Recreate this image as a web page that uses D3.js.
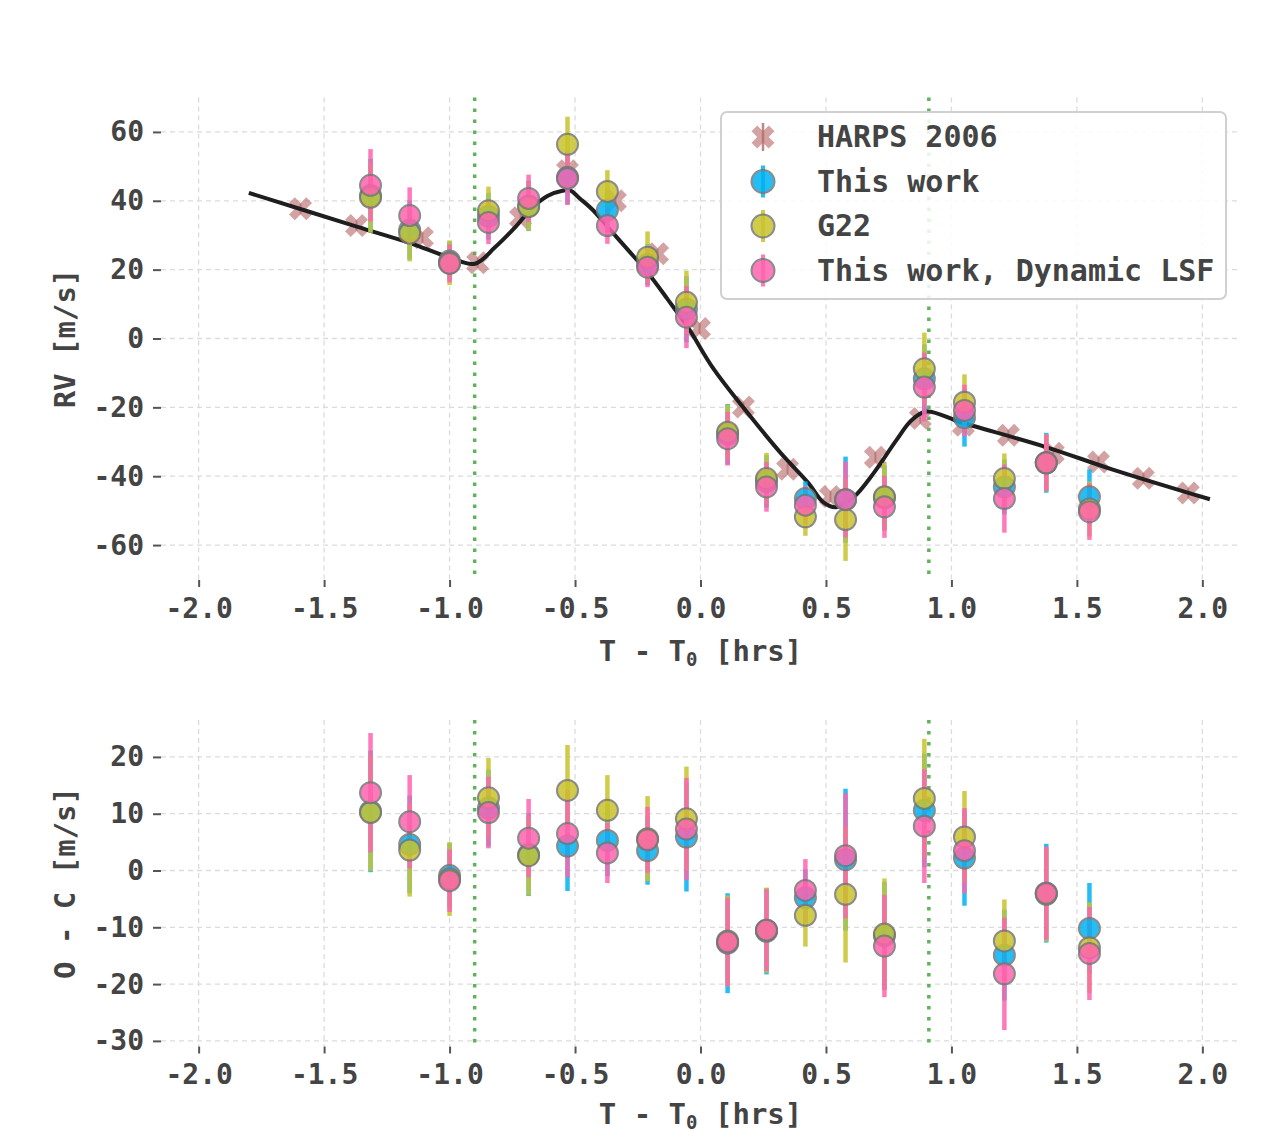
<!DOCTYPE html>
<html>
<head>
<meta charset="utf-8">
<script src="https://cdn.jsdelivr.net/npm/d3@7"></script>
<style>
  body { margin: 0; background: #fff; }
  text { font-family: "DejaVu Sans Mono", monospace; font-weight: bold; fill: #444; }
</style>
</head>
<body>
<div id="chart"></div>
<script>
// ---- data ----
// HARPS 2006
const harpsT = [-1.594, -1.371, -1.108, -0.888, -0.717, -0.530, -0.339, -0.171, -0.004, 0.171,
  0.347, 0.518, 0.697, 0.876, 1.048, 1.227, 1.406, 1.586, 1.765, 1.944]
const harpsRV = [37.7, 32.8, 29.3, 22.0, 35.1, 48.7, 40.0, 24.6, 2.9, -19.9,
  -38.0, -45.9, -34.5, -23.2, -25.2, -28.1, -33.3, -35.9, -40.6, -44.9]
const harpsErr = [1.5, 1.5, 1.5, 1.5, 1.5, 1.5, 1.5, 1.5, 1.5, 1.5,
  1.5, 1.5, 1.5, 1.5, 1.5, 1.5, 1.5, 1.5, 1.5, 1.5]

// model curve
const modelT = [-1.80, -1.37, -1.16, -1.01, -0.90, -0.82, -0.74, -0.67, -0.61, -0.55, -0.52, -0.48,
  -0.43, -0.36, -0.29, -0.21, -0.13, -0.05, 0.05, 0.17, 0.32, 0.43, 0.49, 0.54, 0.61, 0.69,
  0.78, 0.84, 0.90, 1.04, 1.38, 1.64, 2.03]
const modelRV = [42.3, 32.5, 27.8, 23.8, 21.7, 26.4, 32.2, 38.0, 41.4, 42.9, 43.0, 40.6,
  37.4, 31.6, 25.8, 19.1, 11.3, 3.2, -8.6, -20.0, -33.3, -42.0, -47.6, -49.0, -46.1, -39.1,
  -29.6, -23.8, -21.2, -24.4, -31.6, -38.0, -46.7]

// epochs of the new observations
const obsT = [-1.315, -1.159, -1.000, -0.845, -0.685, -0.530, -0.371, -0.211, -0.056, 0.108,
  0.263, 0.418, 0.578, 0.733, 0.892, 1.052, 1.211, 1.378, 1.550]

const rvThis = [41.5, 31.5, 22.5, 35.5, 38.5, 46.8, 37.3, 21.5, 8.5, -27.8,
  -41.5, -46.5, -46.8, -46.3, -11.7, -23.0, -43.1, -36.1, -46.0]
const rvG22 = [41.0, 30.6, 22.0, 37.1, 38.3, 56.4, 42.7, 23.6, 10.5, -27.2,
  -40.7, -51.8, -52.6, -46.0, -8.8, -18.5, -40.7, -36.1, -49.5]
const rvDyn = [44.5, 35.7, 21.8, 33.7, 40.7, 46.5, 32.8, 20.7, 6.2, -29.1,
  -43.1, -48.4, -46.8, -48.9, -14.1, -20.9, -46.5, -36.1, -50.3]

const errThis = [10.7, 8.6, 5.7, 6.8, 7.3, 7.9, 6.3, 6.0, 9.6, 8.8,
  7.6, 5.0, 12.5, 9.5, 10.0, 8.4, 8.0, 8.7, 8.0]
const errG22 = [10.3, 8.2, 6.5, 7.0, 7.0, 8.0, 6.2, 7.5, 9.2, 8.0,
  7.5, 5.5, 12.0, 9.8, 10.5, 8.1, 7.3, 8.3, 8.0]
const errDyn = [10.5, 8.2, 5.5, 6.3, 6.9, 7.7, 5.3, 5.8, 9.0, 7.8,
  7.2, 5.5, 11.0, 9.0, 10.0, 7.5, 9.9, 8.2, 8.2]

const ocThis = [10.4, 4.6, -0.9, 11.0, 2.8, 4.3, 5.3, 3.5, 5.9, -12.8,
  -10.7, -4.8, 1.9, -11.5, 10.6, 2.2, -14.9, -4.0, -10.2]
const ocG22 = [10.2, 3.6, -1.5, 12.8, 2.6, 14.1, 10.6, 5.6, 9.1, -12.4,
  -10.5, -7.9, -4.2, -11.2, 12.7, 5.9, -12.4, -4.2, -13.6]
const ocDyn = [13.7, 8.6, -1.8, 10.2, 5.7, 6.5, 3.1, 5.4, 7.3, -12.6,
  -10.5, -3.5, 2.6, -13.3, 7.8, 3.5, -18.2, -4.0, -14.6]

const transitT = [-0.90, 0.91]

const xTicks = [-2.0, -1.5, -1.0, -0.5, 0.0, 0.5, 1.0, 1.5, 2.0]
const rvTicks = [60, 40, 20, 0, -20, -40, -60]
const ocTicks = [20, 10, 0, -10, -20, -30]

const seriesNames = ["This work", "G22", "This work, Dynamic LSF"]
const seriesColors = ["#00b2f2", "#c9c32c", "#ff63ae"]
const harpsName = "HARPS 2006"

// ---- layout ----
const W = 1277, H = 1136
const LEFT = 161, RIGHT = 1240
const TOP1 = { top: 97.5, bottom: 579.5 }
const BOT1 = { top: 720, bottom: 1046 }

const svg = d3.select("#chart").append("svg")
  .attr("width", W)
  .attr("height", H)

const x = d3.scaleLinear().domain([-2.15, 2.15]).range([LEFT, RIGHT])
const yTop = d3.scaleLinear().domain([-70, 70]).range([TOP1.bottom, TOP1.top])
const yBot = d3.scaleLinear().domain([-30.9, 26.5]).range([BOT1.bottom, BOT1.top])

const crossPath = d3.symbol().type(d3.symbolCross).size(330)()

function panel(y, box, yTicks, yLabel, labelOffset) {
  const g = svg.append("g")

  // grid
  g.selectAll(".hgrid").data(yTicks).join("line")
    .attr("x1", LEFT).attr("x2", RIGHT)
    .attr("y1", d => y(d)).attr("y2", d => y(d))
    .attr("stroke", "#dcdcdc").attr("stroke-width", 1.3)
    .attr("stroke-dasharray", "5,4")
  g.selectAll(".vgrid").data(xTicks).join("line")
    .attr("x1", d => x(d)).attr("x2", d => x(d))
    .attr("y1", box.top).attr("y2", box.bottom)
    .attr("stroke", "#dcdcdc").attr("stroke-width", 1.3)
    .attr("stroke-dasharray", "5,4")

  // transit contacts
  g.selectAll(".transit").data(transitT).join("line")
    .attr("x1", d => x(d)).attr("x2", d => x(d))
    .attr("y1", box.top).attr("y2", box.bottom)
    .attr("stroke", "#5fb35a").attr("stroke-width", 3.5)
    .attr("stroke-dasharray", "3.5,7.5")

  // axes
  const xAxis = g.append("g")
    .attr("transform", `translate(0, ${box.bottom + 0.5})`)
    .call(d3.axisBottom(x).tickValues(xTicks).tickSize(7).tickPadding(11))
  const yAxis = g.append("g")
    .attr("transform", `translate(${LEFT}, 0)`)
    .call(d3.axisLeft(y).tickValues(yTicks).tickSize(8).tickPadding(9))
  ;[xAxis, yAxis].forEach(a => {
    a.select(".domain").remove()
    a.selectAll("line").attr("stroke", "#555").attr("stroke-width", 2)
    a.selectAll("text")
      .attr("font-family", null)
      .style("font-size", "28px")
      .attr("fill", null)
  })
  xAxis.selectAll("text").text(d => d.toFixed(1))
  yAxis.selectAll("text").text(d => String(d))

  // axis labels
  const xl = g.append("text")
    .attr("x", (LEFT + RIGHT) / 2)
    .attr("y", box.bottom + labelOffset)
    .attr("text-anchor", "middle")
    .style("font-size", "29px")
  xl.append("tspan").text("T - T")
  xl.append("tspan").text("0").attr("dy", 5).style("font-size", "19px")
  xl.append("tspan").text(" [hrs]").attr("dy", -5)

  g.append("text")
    .attr("transform", `translate(75, ${(box.top + box.bottom) / 2}) rotate(-90)`)
    .attr("text-anchor", "middle")
    .style("font-size", "29px")
    .text(yLabel)

  return g
}

// ---- top panel ----
const gTop = panel(yTop, TOP1, rvTicks, "RV [m/s]", 81)

// HARPS
const harps = harpsT.map((t, i) => ({ t, v: harpsRV[i], e: harpsErr[i] }))
gTop.selectAll(".harpsbar").data(harps).join("line")
  .attr("x1", d => x(d.t)).attr("x2", d => x(d.t))
  .attr("y1", d => yTop(d.v + d.e)).attr("y2", d => yTop(d.v - d.e))
  .attr("stroke", "#8b2525").attr("stroke-width", 2).attr("opacity", 0.5)
gTop.selectAll(".harps").data(harps).join("path")
  .attr("d", crossPath)
  .attr("transform", d => `translate(${x(d.t)}, ${yTop(d.v)}) rotate(45)`)
  .attr("fill", "#b86b6b").attr("opacity", 0.62)

// model
const model = modelT.map((t, i) => ({ t, v: modelRV[i] }))
gTop.append("path")
  .attr("d", d3.line().x(d => x(d.t)).y(d => yTop(d.v)).curve(d3.curveCatmullRom.alpha(0.5))(model))
  .attr("fill", "none")
  .attr("stroke", "#1e1e1e")
  .attr("stroke-width", 4)
  .attr("stroke-linejoin", "round")

function drawPoints(g, y, vals, errs) {
  const sets = vals.map((arr, s) => obsT.map((t, i) => ({ t, v: arr[i], e: errs[s][i], s })))
  sets.forEach(pts => {
    g.selectAll(null).data(pts).join("line")
      .attr("x1", d => x(d.t)).attr("x2", d => x(d.t))
      .attr("y1", d => y(d.v + d.e)).attr("y2", d => y(d.v - d.e))
      .attr("stroke", d => seriesColors[d.s])
      .attr("stroke-width", 4.5)
      .attr("opacity", 0.85)
  })
  sets.forEach(pts => {
    g.selectAll(null).data(pts).join("circle")
      .attr("cx", d => x(d.t)).attr("cy", d => y(d.v))
      .attr("r", 10.5)
      .attr("fill", d => seriesColors[d.s])
      .attr("stroke", "#777")
      .attr("stroke-width", 2)
      .attr("opacity", 0.85)
  })
}

drawPoints(gTop, yTop, [rvThis, rvG22, rvDyn], [errThis, errG22, errDyn])

// legend
const legend = gTop.append("g").attr("transform", "translate(721, 112)")
legend.append("rect")
  .attr("width", 505).attr("height", 187).attr("rx", 6)
  .attr("fill", "#fff").attr("fill-opacity", 0.85)
  .attr("stroke", "#d0d0d0").attr("stroke-width", 2)
const rows = [harpsName].concat(seriesNames)
rows.forEach((name, i) => {
  const cy = 25 + i * 44.5
  const row = legend.append("g").attr("transform", `translate(42, ${cy})`)
  if (i === 0) {
    row.append("line").attr("y1", -14).attr("y2", 14)
      .attr("stroke", "#8b2525").attr("stroke-width", 2.5).attr("opacity", 0.55)
    row.append("path").attr("d", crossPath).attr("transform", "rotate(45)")
      .attr("fill", "#b86b6b").attr("opacity", 0.62)
  } else {
    row.append("line").attr("y1", -16).attr("y2", 16)
      .attr("stroke", seriesColors[i - 1]).attr("stroke-width", 4).attr("opacity", 0.85)
    row.append("circle").attr("r", 11.5)
      .attr("fill", seriesColors[i - 1]).attr("stroke", "#777").attr("stroke-width", 2)
      .attr("opacity", 0.85)
  }
  legend.append("text")
    .attr("x", 96).attr("y", cy + 10)
    .style("font-size", "30px")
    .text(name)
})

// ---- bottom panel ----
const gBot = panel(yBot, BOT1, ocTicks, "O - C [m/s]", 78)
drawPoints(gBot, yBot, [ocThis, ocG22, ocDyn], [errThis, errG22, errDyn])
</script>
</body>
</html>
